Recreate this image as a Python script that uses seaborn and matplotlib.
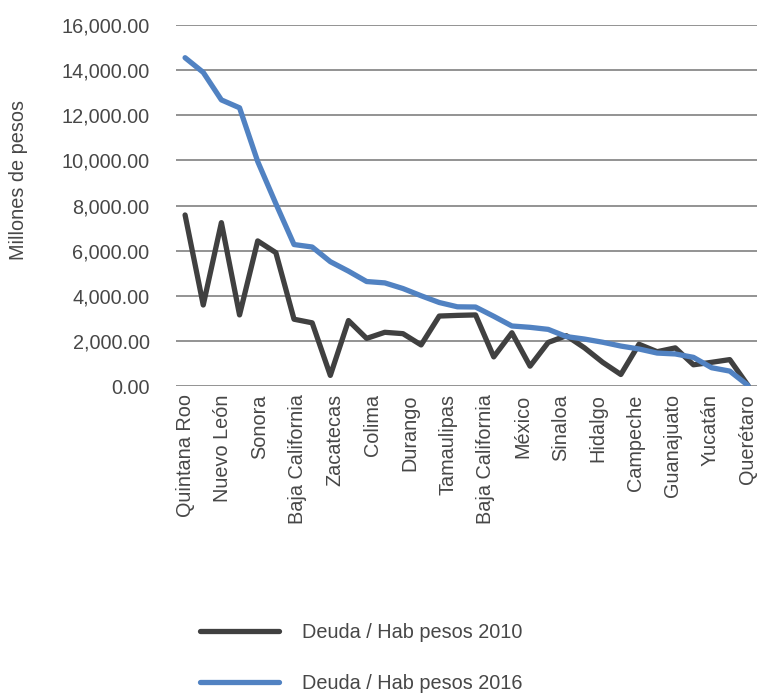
"""Deuda por habitante por entidad, 2010 vs 2016."""
import numpy as np
import seaborn as sns
import matplotlib.pyplot as plt
from matplotlib.ticker import FuncFormatter
from matplotlib.transforms import ScaledTranslation

# Entidades mostradas en el eje (una de cada dos)
ESTADOS = ['Quintana Roo', 'Nuevo León', 'Sonora', 'Baja California', 'Zacatecas',
           'Colima', 'Durango', 'Tamaulipas', 'Baja California', 'México',
           'Sinaloa', 'Hidalgo', 'Campeche', 'Guanajuato', 'Yucatán', 'Querétaro']

DEUDA_2010 = [7580, 3590, 7240, 3150, 6430, 5910, 2960, 2800, 470, 2900,
              2110, 2380, 2320, 1820, 3100, 3130, 3150, 1290, 2360, 880,
              1930, 2230, 1690, 1050, 510, 1850, 1520, 1690, 940, 1050,
              1170, 30]

DEUDA_2016 = [14550, 13900, 12680, 12330, 9950, 8080, 6270, 6160, 5510, 5090,
              4630, 4570, 4320, 4000, 3700, 3510, 3500, 3090, 2660, 2600,
              2510, 2190, 2080, 1940, 1770, 1640, 1460, 1420, 1270, 810,
              660, 30]

SERIES = ['Deuda / Hab pesos 2010', 'Deuda / Hab pesos 2016']
COLORES = ['#404040', '#5182c2']
TEXTO = '#474747'
FS = 14.3

sns.set_style('white')
plt.rcParams['font.family'] = ['Liberation Sans', 'DejaVu Sans']

fig = plt.figure(figsize=(7.61, 6.94), dpi=100)
ax = fig.add_axes([176 / 761, 1 - 386 / 694, 581 / 761, 361 / 694])

x = np.arange(len(DEUDA_2010))
for vals, name, col in zip([DEUDA_2010, DEUDA_2016], SERIES, COLORES):
    sns.lineplot(x=x, y=vals, ax=ax, color=col, linewidth=3.8, label=name,
                 solid_joinstyle='round', solid_capstyle='round')

ax.set_xlim(-0.5, len(x) - 0.5)
ax.set_ylim(0, 16000)
ax.set_yticks(np.arange(0, 16001, 2000))
ax.yaxis.set_major_formatter(FuncFormatter(lambda v, p: f'{v:,.2f}'))
ax.grid(axis='y', color='#8a8a8a', linewidth=1.3)
ax.grid(axis='x', visible=False)
ax.set_axisbelow(True)
for s in ax.spines.values():
    s.set_visible(False)

ax.set_xticks(np.linspace(0, len(x) - 1, len(ESTADOS)))
ax.set_xticklabels(ESTADOS, rotation=90)
shift = ScaledTranslation(6 / 100, 0, fig.dpi_scale_trans)
for lab in ax.get_xticklabels():
    lab.set_transform(lab.get_transform() + shift)

ax.tick_params(axis='both', length=0, labelsize=FS, colors=TEXTO)
ax.tick_params(axis='y', pad=19)
ax.tick_params(axis='x', pad=6)

ax.set_ylabel('Millones de pesos', fontsize=FS, color=TEXTO)
ax.yaxis.set_label_coords(-0.255, 0.571)
ax.set_xlabel('')

handles, labels = ax.get_legend_handles_labels()
ax.get_legend().remove()
fig.legend(handles, labels, loc='center left',
           bbox_to_anchor=(200 / 761, 1 - 658 / 694), frameon=False,
           fontsize=FS, labelcolor=TEXTO, handlelength=4.0, handletextpad=1.15,
           labelspacing=1.65, borderpad=0, borderaxespad=0)

plt.savefig('out.png', dpi=100)
plt.close()
